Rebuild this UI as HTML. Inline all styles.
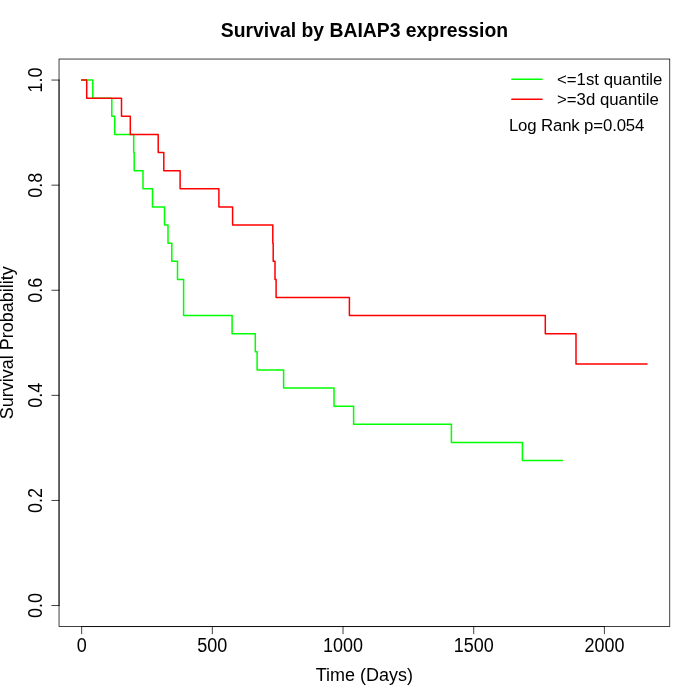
<!DOCTYPE html>
<html><head><meta charset="utf-8"><title>Survival by BAIAP3 expression</title>
<style>html,body{margin:0;padding:0;background:#fff;}body{width:700px;height:700px;overflow:hidden;}svg{display:block;will-change:transform;}text{font-family:"Liberation Sans",sans-serif;fill:#000;}</style></head><body>
<svg width="700" height="700" viewBox="0 0 700 700">
<rect width="700" height="700" fill="#fff"/>
<path d="M81.66 80.06 H92.80 V98.18 H111.80 V116.30 H114.70 V134.42 H133.70 V152.54 H134.20 V170.66 H143.00 V188.78 H152.50 V206.90 H164.50 V225.02 H168.00 V243.14 H171.80 V261.26 H177.50 V279.38 H183.60 V315.62 H232.10 V333.74 H255.30 V351.86 H257.10 V369.98 H283.60 V388.10 H334.00 V406.22 H353.60 V424.34 H451.40 V442.46 H522.40 V460.58 H562.40" fill="none" stroke="#00ff00" stroke-width="1.5" stroke-linecap="round" stroke-linejoin="round"/>
<path d="M81.66 80.06 H86.70 V98.18 H121.50 V116.30 H130.30 V134.42 H158.20 V152.54 H163.80 V170.66 H180.10 V188.78 H218.90 V206.90 H232.60 V225.02 H272.80 V243.14 H273.20 V261.26 H275.00 V279.38 H276.10 V297.50 H349.40 V315.62 H545.30 V333.74 H576.00 V363.90 H647.00" fill="none" stroke="#ff0000" stroke-width="1.5" stroke-linecap="round" stroke-linejoin="round"/>
<g fill="none" stroke="#000" stroke-width="0.75" stroke-linecap="round" stroke-linejoin="round">
<path d="M81.66 626.56 H604.40"/>
<path d="M81.66 626.56 V633.76"/>
<path d="M212.34 626.56 V633.76"/>
<path d="M343.03 626.56 V633.76"/>
<path d="M473.72 626.56 V633.76"/>
<path d="M604.40 626.56 V633.76"/>
<path d="M59.04 605.54 V80.06"/>
<path d="M59.04 605.54 H51.84"/>
<path d="M59.04 500.44 H51.84"/>
<path d="M59.04 395.35 H51.84"/>
<path d="M59.04 290.25 H51.84"/>
<path d="M59.04 185.16 H51.84"/>
<path d="M59.04 80.06 H51.84"/>
</g>
<rect x="59.04" y="59.04" width="610.72" height="567.52" fill="none" stroke="#000" stroke-width="0.75"/>
<text transform="translate(81.66 652.00) scale(1 1.077)" font-size="18" text-anchor="middle">0</text>
<text transform="translate(212.34 652.00) scale(1 1.077)" font-size="18" text-anchor="middle">500</text>
<text transform="translate(343.03 652.00) scale(1 1.077)" font-size="18" text-anchor="middle">1000</text>
<text transform="translate(473.72 652.00) scale(1 1.077)" font-size="18" text-anchor="middle">1500</text>
<text transform="translate(604.40 652.00) scale(1 1.077)" font-size="18" text-anchor="middle">2000</text>
<text transform="translate(41.76 605.54) rotate(-90) scale(1 1.077)" font-size="18" text-anchor="middle">0.0</text>
<text transform="translate(41.76 500.44) rotate(-90) scale(1 1.077)" font-size="18" text-anchor="middle">0.2</text>
<text transform="translate(41.76 395.35) rotate(-90) scale(1 1.077)" font-size="18" text-anchor="middle">0.4</text>
<text transform="translate(41.76 290.25) rotate(-90) scale(1 1.077)" font-size="18" text-anchor="middle">0.6</text>
<text transform="translate(41.76 185.16) rotate(-90) scale(1 1.077)" font-size="18" text-anchor="middle">0.8</text>
<text transform="translate(41.76 80.06) rotate(-90) scale(1 1.077)" font-size="18" text-anchor="middle">1.0</text>
<text transform="translate(364.40 680.60) scale(1 1.05)" font-size="18" text-anchor="middle">Time (Days)</text>
<text transform="translate(12.96 342.80) rotate(-90) scale(1 1.05)" font-size="18" text-anchor="middle">Survival Probability</text>
<text x="364.40" y="37.00" font-size="19.36" font-weight="bold" text-anchor="middle">Survival by BAIAP3 expression</text>
<path d="M511.8 79.2 H542.0" fill="none" stroke="#00ff00" stroke-width="1.5" stroke-linecap="round"/>
<path d="M511.8 99.36 H542.0" fill="none" stroke="#ff0000" stroke-width="1.5" stroke-linecap="round"/>
<text x="557.0" y="85.0" font-size="16.8">&lt;=1st quantile</text>
<text x="557.0" y="105.0" font-size="16.8">&gt;=3d quantile</text>
<text x="508.9" y="130.7" font-size="16.8" textLength="135.5" lengthAdjust="spacing">Log Rank p=0.054</text>
</svg></body></html>
